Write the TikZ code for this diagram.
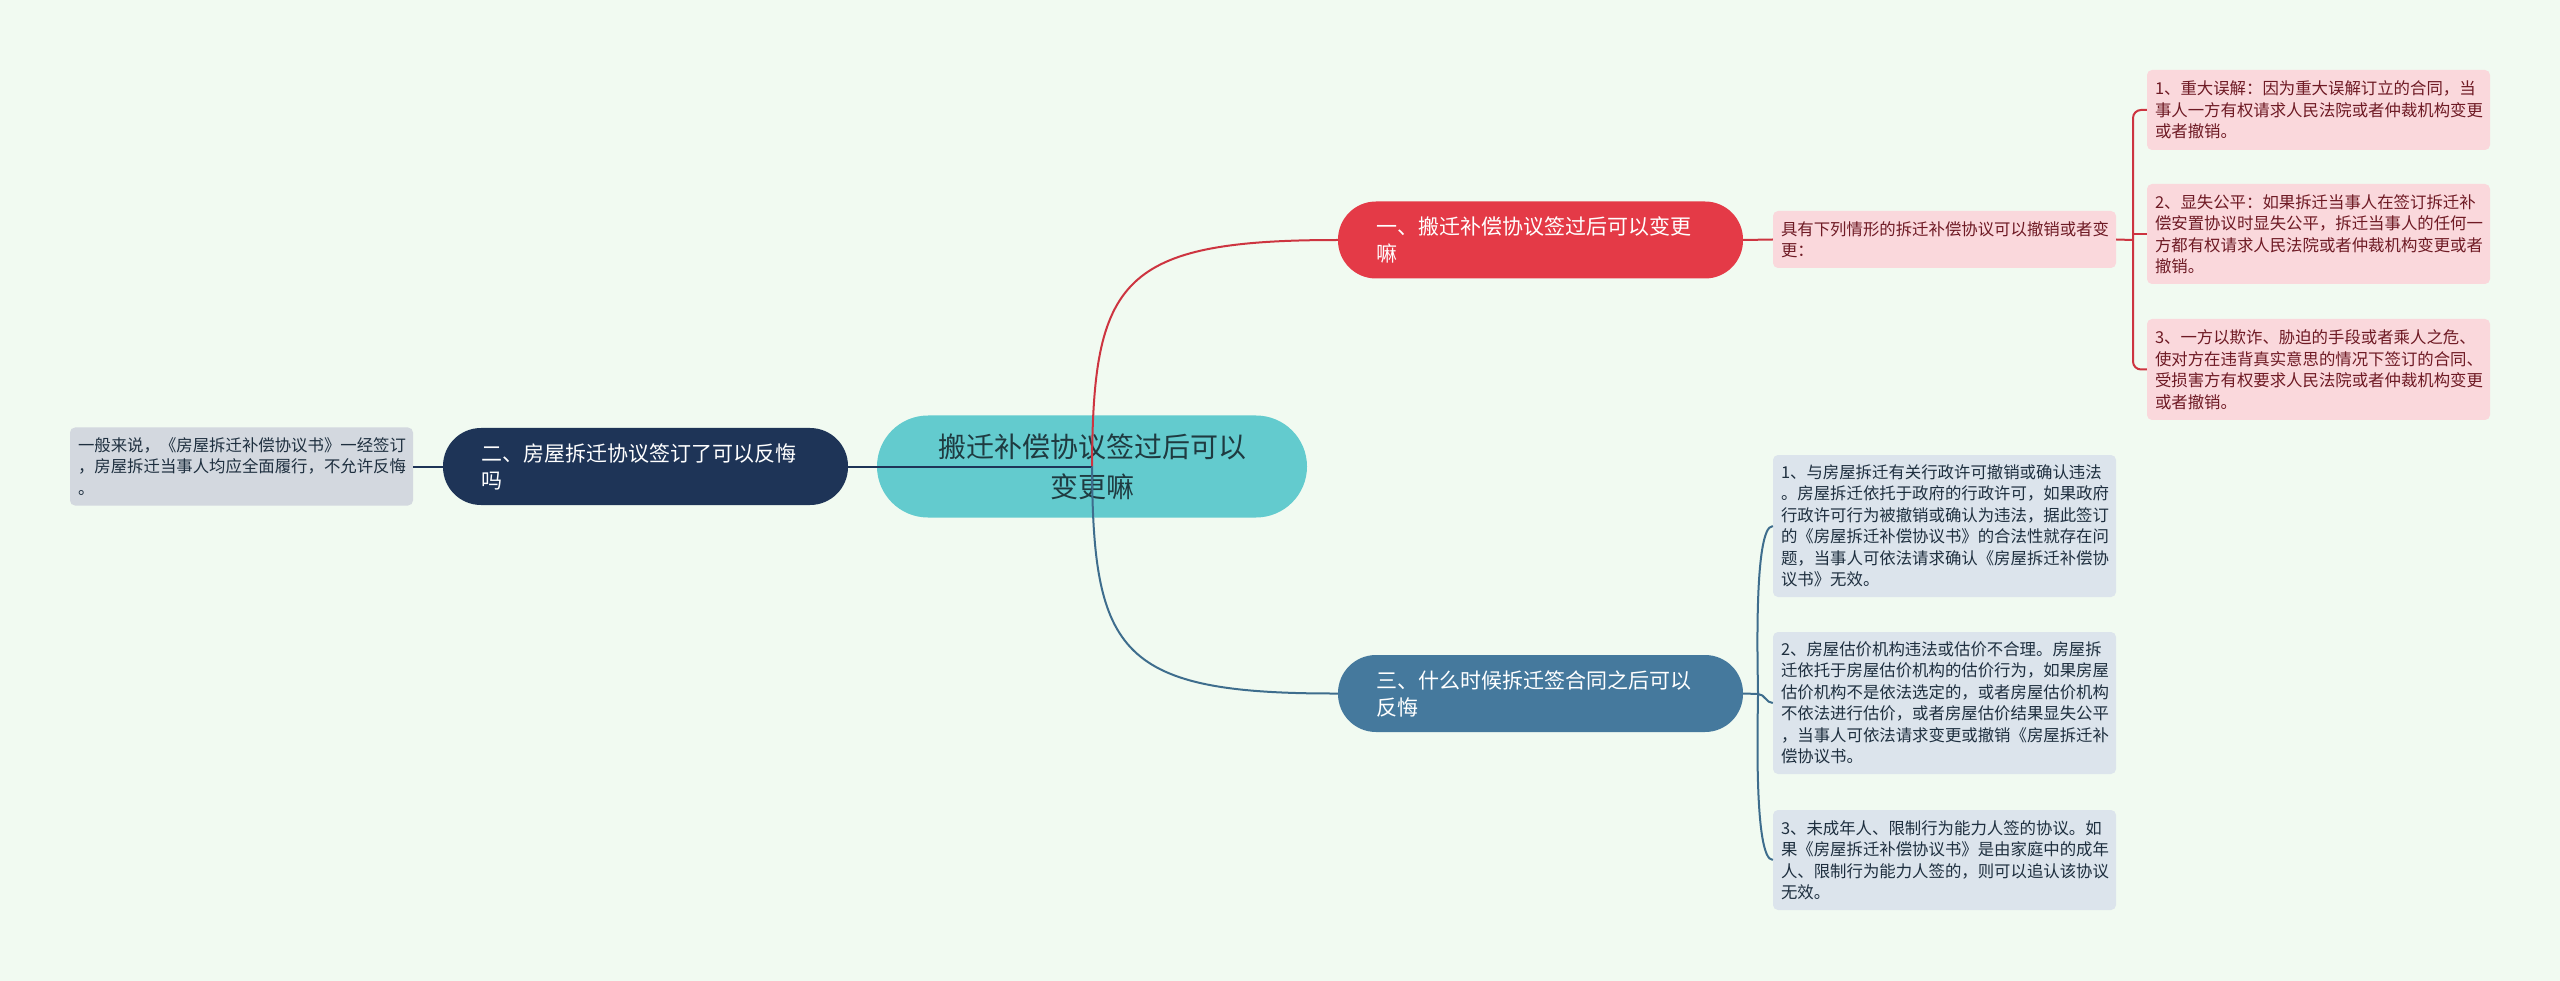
\documentclass[tikz,border=0pt]{standalone}
\usepackage{fontspec}
\newfontfamily\cjk{Noto Sans CJK SC}
\definecolor{bgc}{HTML}{F1FAF1}
\definecolor{rootc}{HTML}{63CBCE}
\definecolor{roottxt}{HTML}{1F3A40}
\definecolor{redc}{HTML}{E43A47}
\definecolor{navyc}{HTML}{1E3457}
\definecolor{steelc}{HTML}{45799D}
\definecolor{pinkc}{HTML}{FAD8DC}
\definecolor{pinktxt}{HTML}{6E1A24}
\definecolor{greyc}{HTML}{DCE4EC}
\definecolor{greytxt}{HTML}{1E2F3F}
\definecolor{slatec}{HTML}{D3D8DF}
\tikzset{
    root/.style={fill=rootc, text=roottxt, rounded corners=51pt, minimum height=102pt, text width=400pt, inner xsep=15pt, align=center, font=\cjk\fontsize{28}{40}\selectfont},
    br/.style={rounded corners=38pt, minimum height=77pt, text width=329pt, inner xsep=38pt, align=left, text=white, font=\cjk\fontsize{21}{27}\selectfont}, % main branches
    lf/.style={rounded corners=5pt, text width=327pt, inner xsep=8pt, inner ysep=2pt, align=left, font=\cjk\fontsize{16.4}{21.5}\selectfont}, % text leaves
    rl/.style={style=lf, fill=pinkc, text=pinktxt},
    sl/.style={style=lf, fill=greyc, text=greytxt},
    gl/.style={style=lf, fill=slatec, text=greytxt},
    e/.style={line width=2pt}
}
\begin{document}
\begin{tikzpicture}[x=1pt, y=-1pt]
        \fill[bgc] (0,0) rectangle (2560,981);
        \useasboundingbox (0,0) rectangle (2560,981);

        \node[root] (C) at (1092, 466.5)
        {搬迁补偿协议签过后可以\\变更嘛};
        \node[br, fill=redc] (B1) at (1540.5, 240)
        {一、搬迁补偿协议签过后可以变更\\嘛};
        \node[br, fill=navyc] (B2) at (645.5, 466.5)
        {二、房屋拆迁协议签订了可以反悔\\吗};
        \node[br, fill=steelc] (B3) at (1540.5, 693.5)
        {三、什么时候拆迁签合同之后可以\\反悔};

        \node[rl, minimum height=57pt] (D1) at (1944.5, 239.5)
        {具有下列情形的拆迁补偿协议可以撤销或者变\\更：};
        \node[rl, minimum height=80pt] (R1) at (2318.5, 110)
        {1、重大误解：因为重大误解订立的合同，当\\事人一方有权请求人民法院或者仲裁机构变更\\或者撤销。};
        \node[rl, minimum height=100pt] (R2) at (2318.5, 234)
        {2、显失公平：如果拆迁当事人在签订拆迁补\\偿安置协议时显失公平，拆迁当事人的任何一\\方都有权请求人民法院或者仲裁机构变更或者\\撤销。};
        \node[rl, minimum height=101pt] (R3) at (2318.5, 369.5)
        {3、一方以欺诈、胁迫的手段或者乘人之危、\\使对方在违背真实意思的情况下签订的合同、\\受损害方有权要求人民法院或者仲裁机构变更\\或者撤销。};

        \node[gl, minimum height=78pt] (G1) at (241.5, 466.5)
        {一般来说，《房屋拆迁补偿协议书》一经签订\\，房屋拆迁当事人均应全面履行，不允许反悔\\。};

        \node[sl, minimum height=142pt] (S1) at (1944.5, 526)
        {1、与房屋拆迁有关行政许可撤销或确认违法\\。房屋拆迁依托于政府的行政许可，如果政府\\行政许可行为被撤销或确认为违法，据此签订\\的《房屋拆迁补偿协议书》的合法性就存在问\\题，当事人可依法请求确认《房屋拆迁补偿协\\议书》无效。};
        \node[sl, minimum height=142pt] (S2) at (1944.5, 703)
        {2、房屋估价机构违法或估价不合理。房屋拆\\迁依托于房屋估价机构的估价行为，如果房屋\\估价机构不是依法选定的，或者房屋估价机构\\不依法进行估价，或者房屋估价结果显失公平\\，当事人可依法请求变更或撤销《房屋拆迁补\\偿协议书。};
        \node[sl, minimum height=100pt] (S3) at (1944.5, 860)
        {3、未成年人、限制行为能力人签的协议。如\\果《房屋拆迁补偿协议书》是由家庭中的成年\\人、限制行为能力人签的，则可以追认该协议\\无效。};

        \coordinate (RJ) at (2133, 240);
        \coordinate (SJ) at (1758, 694);

        \draw[e, redc!90!black] (C.center) .. controls (1093, 280) and (1120, 240) .. (B1.west);
        \draw[e, navyc] (C.center) -- (B2.east);
        \draw[e, steelc!90!black] (C.center) .. controls (1093, 654) and (1120, 694) .. (B3.west);

        \draw[e, redc!90!black] (B1.east) -- (D1.west)
        (D1.east) -- (RJ);
        \draw[e, redc!90!black, rounded corners=8pt] (R1.west) -| (RJ) |- (R3.west);
        \draw[e, redc!90!black] (RJ |- R2.west) -- (R2.west);

        \draw[e, navyc] (B2.west) -- (G1.east);

        \draw[e, steelc!90!black] (B3.east) -- (SJ)
        (SJ) to[out=90, in=180, looseness=0.3] (S1.west)
        (SJ) to[out=0, in=180] (S2.west)
        (SJ) to[out=-90, in=180, looseness=0.3] (S3.west);
      \end{tikzpicture}
\end{document}
